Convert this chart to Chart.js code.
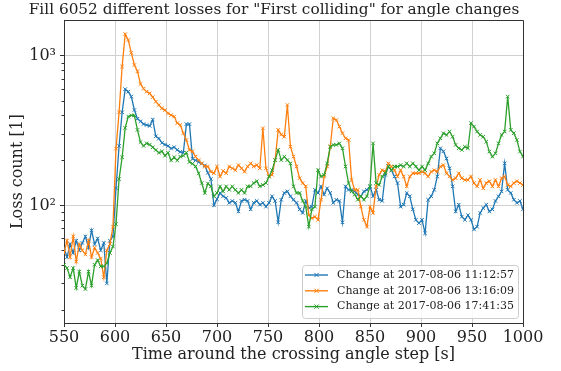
<!DOCTYPE html>
<html>
<head>
<meta charset="utf-8">
<script src="https://cdn.jsdelivr.net/npm/chart.js@4.4.0/dist/chart.umd.min.js"></script>
<style>
  html,body{margin:0;padding:0;background:#fff;}
  #wrap{width:561px;height:371px;}
</style>
</head>
<body>
<div id="wrap"><canvas id="c" width="561" height="371"></canvas></div>
<script>
/* ---- data ---- */
const chartTitle = 'Fill 6052 different losses for "First colliding" for angle changes';
const xTitle = 'Time around the crossing angle step [s]';
const yTitle = 'Loss count [1]';
const seriesNames = ['Change at 2017-08-06 11:12:57','Change at 2017-08-06 13:16:09','Change at 2017-08-06 17:41:35'];
const seriesColors = ['#1f77b4','#ff7f0e','#2ca02c'];

const timeS = [550,553,556,559,562,565,568,571,574,577,580,583,586,589,592,595,598,601,604,607,
  610,613,616,619,622,625,628,631,634,637,640,643,646,649,652,655,658,661,664,667,
  670,673,676,679,682,685,688,691,694,697,700,703,706,709,712,715,718,721,724,727,
  730,733,736,739,742,745,748,751,754,757,760,763,766,769,772,775,778,781,784,787,
  790,793,796,799,802,805,808,811,814,817,820,823,826,829,832,835,838,841,844,847,
  850,853,856,859,862,865,868,871,874,877,880,883,886,889,892,895,898,901,904,907,
  910,913,916,919,922,925,928,931,934,937,940,943,946,949,952,955,958,961,964,967,
  970,973,976,979,982,985,988,991,994,997,1000];

const loss1112 = [52,45,55,48,58,50,56,62,52,68, 55,60,50,56,30,58,62,130,250,420,
  600,577,535,435,380,365,350,345,340,375, 290,280,262,255,250,240,245,235,228,225,
  350,350,205,200,195,190,185,165,150,100, 110,
  121,115,112,104,107,104,91,107,109,107, 94,104,107,101,104,98,104,115,107,77,
  109,121,124,115,109,104,94,89,107,96, 98,127,121,134,118,130,121,104,109,107,
  77,134,127,127,124,118,115,124,127,134,
  115,127,109,107,160,182,172,156,141,98, 101,121,115,94,80,76,80,65,109,115,
  127,156,241,230,206,177,134,91,101,84, 80,86,80,69,72,89,96,101,91,94,
  107,115,124,191,127,121,109,104,107,94];

const loss1316 = [48,58,45,62,42,55,50,47,58,45, 52,48,44,33,50,55,72,240,420,850,
  1400,1280,1050,870,790,650,605,577,562,530, 495,470,446,434,413,402,393,355,345,304,
  274,235,230,212,201,191,182,182,168,164, 182,
  156,170,164,182,177,172,186,177,168,182, 191,182,186,177,328,177,156,160,201,320,
  298,288,470,247,212,182,152,141,134,86, 82,84,80,109,156,182,247,383,373,337,
  304,281,274,148,127,127,98,80,72,98,
  89,134,160,172,168,191,182,172,156,172, 156,134,156,164,164,164,168,164,156,168,
  172,168,182,186,164,156,148,152,164,152, 148,148,156,141,134,148,130,141,145,134,
  148,134,152,156,137,134,141,145,141,137];

const loss1741 = [40,38,33,38,28,36,29,27.5,36,29, 40,43,39,39,41,48,53,75,150,210,
  330,393,400,400,320,265,250,260,255,245, 235,225,230,215,225,200,210,200,212,215,
  225,195,190,182,164,141,121,140,134,115, 121,
  134,124,134,127,134,127,121,127,121,134, 134,141,145,134,137,141,156,172,201,235,
  201,212,201,191,134,121,121,107,98,72, 94,98,172,156,160,191,247,254,254,260,
  241,182,141,124,118,109,115,109,115,134,
  260,141,137,156,164,182,172,182,182,186, 182,191,182,191,182,172,182,172,191,212,
  223,260,281,304,296,312,288,254,241,235, 247,241,355,337,312,296,288,267,229,212,
  223,260,296,312,535,320,304,274,229,212];

const yTickVals = [20,30,40,50,60,70,80,90,100,200,300,400,500,600,700,800,900,1000];
const yTickLabels = {100:'10²', 1000:'10³'};

/* ---- drawing ---- */
const SERIF = '"DejaVu Serif", serif';
const isMajor = v => v === 100 || v === 1000;

const extras = {
  id:'extras',
  afterDraw(chart){
    const ctx = chart.ctx, a = chart.chartArea, ys = chart.scales.y;
    ctx.save();
    // top + right spines
    ctx.strokeStyle = '#333'; ctx.lineWidth = 1;
    ctx.beginPath();
    ctx.moveTo(a.left, a.top + 0.5); ctx.lineTo(a.right + 0.5, a.top + 0.5); ctx.lineTo(a.right + 0.5, a.bottom);
    ctx.stroke();
    // minor ticks on log axis
    ctx.beginPath();
    yTickVals.filter(v => !isMajor(v)).forEach(v => {
      const y = Math.round(ys.getPixelForValue(v)) + 0.5;
      ctx.moveTo(a.left - 2.5, y); ctx.lineTo(a.left, y);
    });
    ctx.stroke();
    // title
    ctx.font = '15.3px ' + SERIF; ctx.fillStyle = '#222';
    ctx.textAlign = 'center'; ctx.textBaseline = 'middle';
    ctx.fillText(chartTitle, 274, 10);
    // legend inside the plot
    const x0 = 302, y0 = 265, w = 216, h = 53;
    ctx.fillStyle = 'rgba(255,255,255,0.85)'; ctx.strokeStyle = '#cccccc';
    ctx.beginPath(); ctx.roundRect(x0 + 0.5, y0 + 0.5, w, h, 3); ctx.fill(); ctx.stroke();
    ctx.font = '11px ' + SERIF; ctx.textAlign = 'left';
    chart.data.datasets.forEach((ds, i) => {
      const y = 275 + i * 15.8;
      ctx.strokeStyle = ds.borderColor; ctx.lineWidth = 1.4;
      ctx.beginPath(); ctx.moveTo(305, y); ctx.lineTo(328, y); ctx.stroke();
      ctx.lineWidth = 1;
      Chart.helpers.drawPoint(ctx, {pointStyle:'crossRot', radius:3, borderWidth:1, rotation:0}, 316.5, y);
      ctx.fillStyle = '#222';
      ctx.fillText(ds.label, 337, y);
    });
    ctx.restore();
  }
};

const lossSeries = [loss1112, loss1316, loss1741];
new Chart(document.getElementById('c'), {
  type:'line',
  data:{
    datasets: lossSeries.map((vals, i) => ({
      label: seriesNames[i],
      data: vals.map((v, k) => ({x: timeS[k], y: v})),
      borderColor: seriesColors[i],
      backgroundColor: seriesColors[i],
      borderWidth: 1.3,
      pointStyle: 'crossRot',
      pointRadius: 2.5,
      pointBorderWidth: 1,
      tension: 0,
      order: 2 - i
    }))
  },
  options:{
    responsive:false, animation:false,
    layout:{padding:{top:20, right:38, left:0, bottom:0}},
    plugins:{legend:{display:false}, title:{display:false}, tooltip:{enabled:false}},
    scales:{
      x:{
        type:'linear', min:550, max:1000,
        ticks:{stepSize:50, maxRotation:0, padding:1, color:'#222', font:{family:SERIF, size:16},
          callback:(v) => String(v)},
        grid:{color:'#d0d0d0', lineWidth:1, tickLength:4, tickColor:'#333'},
        border:{display:true, color:'#333', width:1},
        title:{display:true, text:xTitle, color:'#222', font:{family:SERIF, size:16}, padding:{top:0, bottom:7}},
        afterFit(s){ s.height = 48; }
      },
      y:{
        type:'logarithmic', min:16.3, max:1742,
        afterBuildTicks(s){ s.ticks = yTickVals.map(v => ({value:v, major:isMajor(v)})); },
        ticks:{autoSkip:false, padding:4, color:'#222', font:{family:SERIF, size:16},
          callback:(v) => yTickLabels[v] || ''},
        grid:{
          color: c => (c.tick && isMajor(c.tick.value)) ? '#d0d0d0' : 'rgba(0,0,0,0)',
          tickColor: c => (c.tick && isMajor(c.tick.value)) ? '#333' : 'rgba(0,0,0,0)',
          lineWidth:1, tickLength:4
        },
        border:{display:true, color:'#333', width:1},
        title:{display:true, text:yTitle, color:'#222', font:{family:SERIF, size:16}, padding:{top:8, bottom:0}},
        afterFit(s){ s.width = 64; }
      }
    }
  },
  plugins:[extras]
});
</script>
</body>
</html>
